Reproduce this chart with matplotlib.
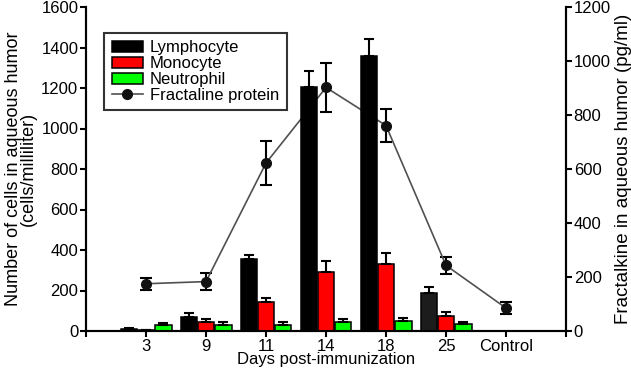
import matplotlib
matplotlib.use('Agg')
import matplotlib.pyplot as plt
import numpy as np

plt.rcParams['font.family'] = ['Liberation Sans', 'DejaVu Sans']

days = ['3', '9', '11', '14', '18', '25', 'Control']
# cell counts (cells/milliliter) for the immunized days (no bars for Control)
lymph = [10, 70, 355, 1205, 1358, 190]
lymph_err = [3, 20, 22, 80, 85, 25]
mono = [5, 42, 142, 290, 330, 72]
mono_err = [2, 15, 20, 55, 55, 20]
neut = [32, 28, 30, 42, 47, 33]
neut_err = [8, 14, 12, 15, 15, 10]
# fractalkine protein (pg/ml)
fract = [175, 183, 622, 902, 761, 243, 85]
fract_err = [22, 32, 82, 90, 61, 31, 22]

lymph_colors = ['black'] * 5 + ['#1c1c1c']

fig = plt.figure(figsize=(6.31, 3.72), dpi=100)
ax = fig.add_axes([86/631, 1-331/372, 480/631, 324/372])
ax2 = ax.twinx()

x = np.arange(len(days))
xb = np.arange(len(lymph))
w = 0.27
ekw = dict(elinewidth=1.5, capthick=1.5, ecolor='black')
b1 = ax.bar(xb - 0.28, lymph, w, color=lymph_colors, edgecolor='black', linewidth=1.1,
            yerr=[np.zeros(len(lymph)), lymph_err], capsize=3.6, error_kw=ekw, label='Lymphocyte')
b2 = ax.bar(xb + 0.0, mono, w, color='#ff0000', edgecolor='black', linewidth=1.1,
            yerr=[np.zeros(len(mono)), mono_err], capsize=3.6, error_kw=ekw, label='Monocyte')
b3 = ax.bar(xb + 0.29, neut, w, color='#00ff00', edgecolor='black', linewidth=1.1,
            yerr=[np.zeros(len(neut)), neut_err], capsize=3.6, error_kw=ekw, label='Neutrophil')

ln = ax2.errorbar(x, fract, yerr=fract_err, color='#505050', lw=1.2, marker='o', ms=7,
                  mfc='#111111', mec='#111111', ecolor='black', elinewidth=1.5,
                  capthick=1.5, capsize=4.3, label='Fractaline protein')

ax.set_zorder(ax2.get_zorder() + 1)
ax.patch.set_visible(False)

ax.set_xlim(-1, 7)
ax.set_ylim(0, 1600)
ax2.set_ylim(0, 1200)
ax.set_yticks(np.arange(0, 1601, 200))
ax2.set_yticks(np.arange(0, 1201, 200))
ax.set_xticks(x)
ax.set_xticklabels(days)
ax.set_xticks([-1, 7], minor=True)

for a in (ax, ax2):
    for s in a.spines.values():
        s.set_linewidth(1.5)
    a.spines['top'].set_visible(False)
    a.tick_params(axis='both', which='both', direction='out', length=4, width=1.5,
                  labelsize=12, pad=1.5)
ax.tick_params(axis='x', which='minor', length=4, width=1.5)

ax.set_ylabel('Number of cells in aqueous humor\n(cells/milliliter)', fontsize=13,
              labelpad=3, linespacing=0.85)
ax2.set_ylabel('Fractalkine in aqueous humor (pg/ml)', fontsize=13.5, labelpad=3)
ax.set_xlabel('Days post-immunization', fontsize=12, labelpad=-1)

leg = ax.legend(handles=[b1, b2, b3, ln[0]], labels=['Lymphocyte', 'Monocyte', 'Neutrophil', 'Fractaline protein'],
                loc='upper left', bbox_to_anchor=(0.0375, 0.92),
                fontsize=12, frameon=True, fancybox=False, edgecolor='black',
                handlelength=1.9, handleheight=0.6, labelspacing=0.05, borderpad=0.45,
                handletextpad=0.4, borderaxespad=0)
leg.get_frame().set_linewidth(1.5)

fig.savefig('out.png', dpi=100)
